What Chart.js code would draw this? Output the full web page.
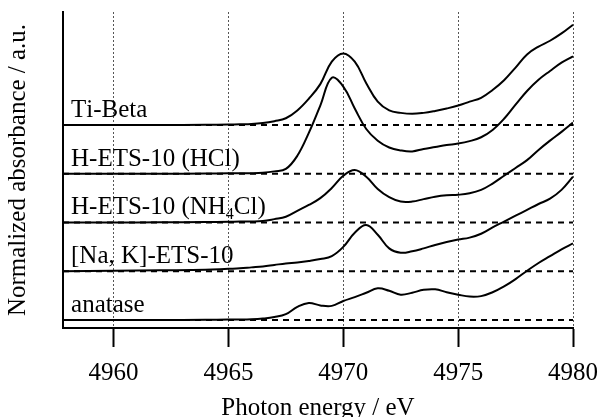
<!DOCTYPE html>
<html>
<head>
<meta charset="utf-8">
<script src="https://cdn.jsdelivr.net/npm/chart.js@4"></script>
<style>
html,body{margin:0;padding:0;background:#fff;}
#wrap{width:601px;height:417px;}
</style>
</head>
<body>
<div id="wrap"><canvas id="xanes"></canvas></div>
<script>
// photon energy grid (eV)
const energy = [4957.8, 4960, 4962, 4964, 4965, 4965.5, 4966, 4966.5, 4967, 4967.5,
  4968, 4968.5, 4969, 4969.5, 4970, 4970.5, 4971, 4971.5, 4972, 4972.5,
  4973, 4973.5, 4974, 4974.5, 4975, 4975.5, 4976, 4976.5, 4977, 4977.5,
  4978, 4978.5, 4979, 4979.5, 4980];

// normalized absorbance, before the vertical offset
const tiBeta = [0, 0, 0, 0.005, 0.01, 0.015, 0.02, 0.04, 0.08, 0.14,
  0.3, 0.54, 0.84, 1.3, 1.47, 1.3, 0.86, 0.48, 0.3, 0.25,
  0.23, 0.25, 0.29, 0.34, 0.4, 0.48, 0.56, 0.72, 0.92, 1.18,
  1.45, 1.61, 1.73, 1.88, 2.06];
const hEtsHcl = [0, 0, 0, 0.005, 0.01, 0.01, 0.01, 0.02, 0.05, 0.1,
  0.37, 0.84, 1.4, 1.97, 1.79, 1.34, 0.92, 0.68, 0.54, 0.48,
  0.46, 0.51, 0.55, 0.59, 0.62, 0.67, 0.75, 0.9, 1.13, 1.42,
  1.7, 1.93, 2.11, 2.28, 2.41];
const hEtsNh4 = [0, 0, 0.005, 0.01, 0.015, 0.02, 0.02, 0.03, 0.07, 0.12,
  0.24, 0.36, 0.5, 0.71, 0.96, 1.08, 0.94, 0.69, 0.52, 0.43,
  0.43, 0.48, 0.53, 0.56, 0.57, 0.6, 0.67, 0.8, 0.96, 1.12,
  1.28, 1.49, 1.68, 1.86, 2.05];
const naKEts = [0, 0.01, 0.02, 0.03, 0.05, 0.06, 0.08, 0.1, 0.13, 0.16,
  0.18, 0.21, 0.25, 0.31, 0.5, 0.79, 0.95, 0.75, 0.47, 0.38,
  0.41, 0.47, 0.54, 0.6, 0.65, 0.69, 0.77, 0.9, 1.02, 1.14,
  1.26, 1.38, 1.49, 1.67, 1.94];
const anatase = [0, 0, 0, 0.005, 0.01, 0.01, 0.015, 0.03, 0.06, 0.12,
  0.27, 0.35, 0.3, 0.29, 0.39, 0.47, 0.56, 0.65, 0.6, 0.52,
  0.56, 0.62, 0.63, 0.57, 0.52, 0.48, 0.49, 0.57, 0.69, 0.84,
  1.01, 1.17, 1.31, 1.45, 1.57];

const samples = ['Ti-Beta', 'H-ETS-10 (HCl)', 'H-ETS-10 (NH₄Cl)', '[Na, K]-ETS-10', 'anatase'];
const spectra = [tiBeta, hEtsHcl, hEtsNh4, naKEts, anatase];
const offsets = [4, 3, 2, 1, 0];
const xTicks = [4960, 4965, 4970, 4975, 4980];
const xMin = 4957.8, xMax = 4980;

const serif = '"Liberation Serif", "Times New Roman", serif';

const curveSets = spectra.map((s, i) => ({
  label: samples[i],
  data: energy.map((e, j) => ({x: e, y: s[j] + offsets[i]})),
  borderColor: '#000',
  borderWidth: 2,
  pointRadius: 0,
  tension: 0.4,
  fill: false
}));

const baseSets = offsets.map(o => ({
  label: 'base ' + o,
  data: [{x: xMin, y: o}, {x: xMax, y: o}],
  borderColor: '#000',
  borderWidth: 2,
  borderDash: [6, 5],
  pointRadius: 0,
  fill: false
}));

// sample names written just above each dashed baseline
const sampleLabels = {
  id: 'sampleLabels',
  afterDatasetsDraw(chart) {
    const ctx = chart.ctx;
    const xs = chart.scales.x, ys = chart.scales.y;
    ctx.save();
    ctx.fillStyle = '#000';
    ctx.textAlign = 'left';
    ctx.textBaseline = 'alphabetic';
    samples.forEach((name, i) => {
      let px = xs.getPixelForValue(4958.15);
      const py = ys.getPixelForValue(offsets[i] + 0.165);
      for (const ch of name) {
        const code = ch.charCodeAt(0);
        if (code >= 0x2080 && code <= 0x2089) {
          ctx.font = '16px ' + serif;
          const d = String.fromCharCode(code - 0x2080 + 48);
          ctx.fillText(d, px, py + 5);
          px += ctx.measureText(d).width;
        } else {
          ctx.font = '25px ' + serif;
          ctx.fillText(ch, px, py);
          px += ctx.measureText(ch).width;
        }
      }
    });
    ctx.restore();
  }
};

new Chart(document.getElementById('xanes'), {
  type: 'line',
  data: {datasets: curveSets.concat(baseSets)},
  options: {
    responsive: true,
    maintainAspectRatio: false,
    animation: false,
    layout: {padding: {top: 12, right: 28, left: 0, bottom: 0}},
    plugins: {
      legend: {display: false},
      tooltip: {enabled: false}
    },
    scales: {
      x: {
        type: 'linear',
        min: xMin,
        max: xMax,
        afterBuildTicks: s => { s.ticks = xTicks.map(v => ({value: v})); },
        afterFit: s => { s.height = 89; s.paddingLeft = 0; s.paddingRight = 0; },
        ticks: {
          color: '#000',
          font: {family: serif, size: 25},
          padding: 11,
          maxRotation: 0,
          callback: v => String(v)
        },
        grid: {
          color: '#555',
          lineWidth: 1,
          tickLength: 19,
          tickColor: '#000',
          tickWidth: 2,
          tickBorderDash: []
        },
        border: {display: true, color: '#000', width: 2, dash: [2, 2]},
        title: {
          display: true,
          text: 'Photon energy / eV',
          color: '#000',
          font: {family: serif, size: 25, lineHeight: 0.6},
          padding: {top: 0, bottom: 1}
        }
      },
      y: {
        type: 'linear',
        min: -0.164,
        max: 6.32,
        afterFit: s => { s.width = 63; },
        ticks: {display: false},
        grid: {display: false, drawTicks: false},
        border: {display: true, color: '#000', width: 2},
        title: {
          display: true,
          text: 'Normalized absorbance / a.u.',
          color: '#000',
          font: {family: serif, size: 25, lineHeight: 1.2},
          padding: {top: 3, bottom: 0}
        }
      }
    }
  },
  plugins: [sampleLabels]
});
</script>
</body>
</html>
